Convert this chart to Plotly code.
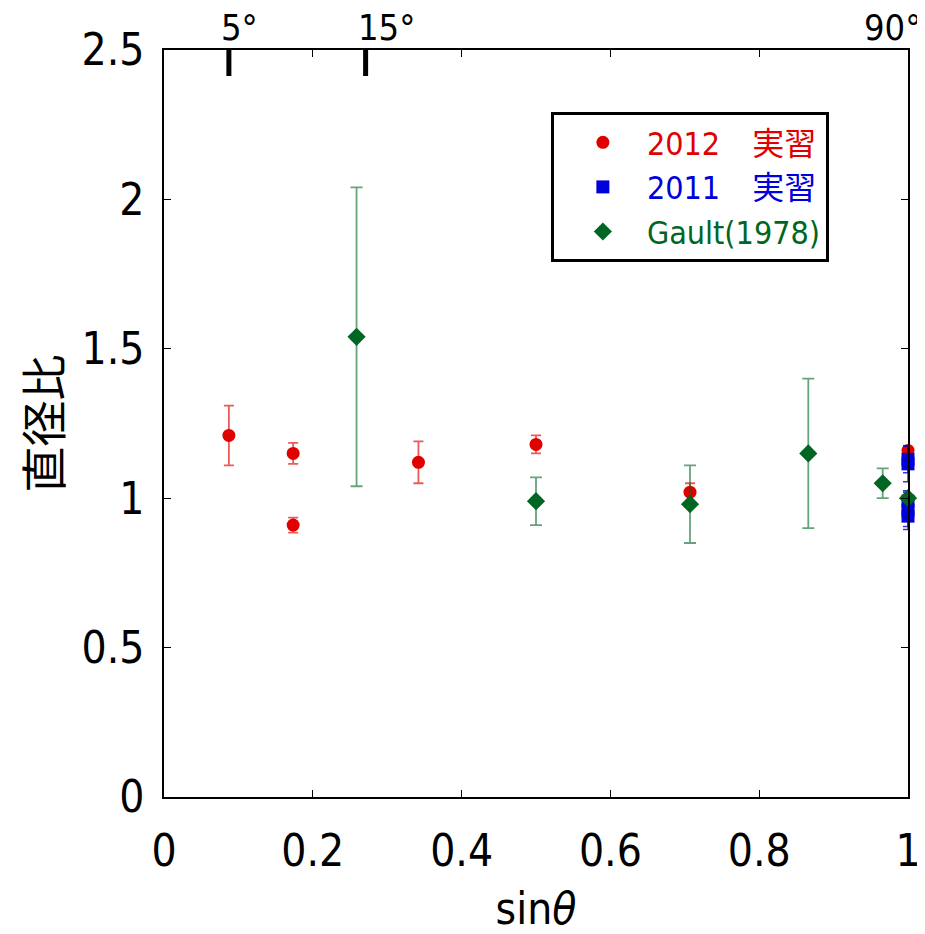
import plotly.graph_objects as go

# ---- data ----
x_2012 = [0.0872, 0.1736, 0.1736, 0.342, 0.5, 0.707, 1.0]
y_2012 = [1.21, 1.15, 0.91, 1.12, 1.18, 1.02, 1.16]
e_2012 = [0.10, 0.035, 0.025, 0.07, 0.03, 0.03, 0.01]

x_2011 = [1.0, 1.0, 1.0, 1.0, 1.0]
y_2011 = [1.13, 1.115, 0.99, 0.96, 0.94]
e_2011 = [0.045, 0.06, 0.03, 0.065, 0.035]

x_gault = [0.2588, 0.5, 0.707, 0.866, 0.966, 1.0]
y_gault = [1.54, 0.99, 0.98, 1.15, 1.05, 1.0]
e_gault = [0.50, 0.08, 0.13, 0.25, 0.05, 0.0]

x_ticks = [0, 0.2, 0.4, 0.6, 0.8, 1.0]
x_ticktext = ["0", "0.2", "0.4", "0.6", "0.8", "1"]
y_ticks = [0, 0.5, 1.0, 1.5, 2.0, 2.5]
y_ticktext = ["0", "0.5", "1", "1.5", "2", "2.5"]

top_mark_x = [0.0872, 0.271]
top_mark_text = ["5°", "15°"]
top_right_text = "90°"

FONT = "DejaVu Sans Condensed, Liberation Sans Narrow, Noto Sans CJK JP, sans-serif"
RED = "#e00000"
BLUE = "#0000dd"
GREEN = "#006622"

fig = go.Figure()
fig.add_trace(go.Scatter(
    x=x_2012, y=y_2012, mode="markers", cliponaxis=False,
    name='<span style="color:#e00000">2012　実習</span>',
    marker=dict(symbol="circle", size=13, color=RED),
    error_y=dict(type="data", array=e_2012, color="rgba(224,0,0,0.65)", thickness=1.8, width=5),
))
fig.add_trace(go.Scatter(
    x=x_2011, y=y_2011, mode="markers", cliponaxis=False,
    name='<span style="color:#0000dd">2011　実習</span>',
    marker=dict(symbol="square", size=13, color=BLUE),
    error_y=dict(type="data", array=e_2011, color="rgba(0,0,221,0.8)", thickness=1.5, width=5),
))
fig.add_trace(go.Scatter(
    x=x_gault, y=y_gault, mode="markers", cliponaxis=False,
    name='<span style="color:#006622">Gault(1978)</span>',
    marker=dict(symbol="diamond", size=14, color=GREEN),
    error_y=dict(type="data", array=e_gault, color="rgba(0,102,34,0.6)", thickness=1.8, width=6),
))

shapes = []
annotations = []
for xv, txt in zip(top_mark_x, top_mark_text):
    shapes.append(dict(type="line", xref="x", yref="paper", x0=xv, x1=xv, y0=1.0, y1=1.0 - 26 / 747,
                       line=dict(color="black", width=5)))
    annotations.append(dict(xref="x", yref="paper", x=xv, y=1.0, xshift=-10, yshift=0, text=txt,
                            showarrow=False, xanchor="left", yanchor="bottom",
                            font=dict(family=FONT, size=36, color="black")))
annotations.append(dict(xref="x", yref="paper", x=1.0, y=1.0, xshift=15, yshift=0, text=top_right_text,
                        showarrow=False, xanchor="right", yanchor="bottom",
                        font=dict(family=FONT, size=36, color="black")))

axis_common = dict(showgrid=False, zeroline=False, showline=True, linecolor="black", linewidth=1.5,
                   mirror="ticks", ticks="inside", ticklen=7, tickcolor="black", tickwidth=1.2,
                   automargin=False,
                   tickfont=dict(family=FONT, size=44, color="black"))

# the page body adds an 8px offset; compensate in size and margins
fig.update_layout(
    width=917, height=926,
    margin=dict(l=156, r=17, t=42, b=137),
    paper_bgcolor="white", plot_bgcolor="white",
    font=dict(family=FONT, color="black"),
    showlegend=True,
    legend=dict(x=0.52, y=0.917, xanchor="left", yanchor="top",
                bordercolor="black", borderwidth=3, bgcolor="white",
                font=dict(family=FONT, size=32), indentation=5, itemwidth=78,
                tracegroupgap=0, itemsizing="trace"),
    xaxis=dict(range=[0, 1], tickvals=x_ticks, ticktext=x_ticktext, ticklabelstandoff=14,
               title=dict(text="sin<i>θ</i>", font=dict(family=FONT, size=44), standoff=24),
               **axis_common),
    yaxis=dict(range=[0, 2.5], tickvals=y_ticks, ticktext=y_ticktext, ticklabelstandoff=9,
               title=dict(text="直径比", font=dict(family="Noto Sans CJK JP", size=46), standoff=14),
               **axis_common),
    shapes=shapes,
    annotations=annotations,
)

fig.write_html("out.html")
